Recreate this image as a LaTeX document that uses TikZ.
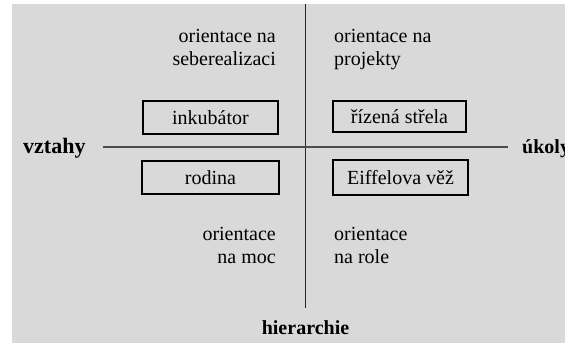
\documentclass[tikz,border=0pt]{standalone}
\usepackage{fontspec}
\setmainfont{Liberation Serif}
\begin{document}
\begin{tikzpicture}[x=1pt,y=-1pt,
  txt/.style={inner sep=0pt,font=\fontsize{20}{23}\selectfont},
  bld/.style={txt,font=\fontsize{20}{23}\selectfont\bfseries},
  boxnode/.style={draw=black,line width=1.3pt,inner sep=0pt,font=\fontsize{20}{23}\selectfont},
  axis/.style={line width=1.3pt,draw=black!85}]
\useasboundingbox (0,0) rectangle (565,343);
\fill[fill={rgb,255:red,217;green,217;blue,217}] (12,4) rectangle (565,343);
% axes
\coordinate (vt) at (305.5,4);
\coordinate (vb) at (305.5,308);
\coordinate (hl) at (103,147);
\coordinate (hr) at (508,147);
\draw[axis] (vt) -- (vb);
\draw[axis,draw=black!70,line width=1.1pt] (hl) -- (hr);
% axis labels
\node[bld,font=\fontsize{22}{25}\selectfont\bfseries,anchor=base west] (vztahy) at (23,153) {vztahy};
\node[bld,anchor=base west] (ukoly) at (522,153) {úkoly};
\node[bld,anchor=base] (hier) at (305.5,334) {hierarchie};
% quadrant texts
\node[txt,anchor=base east] (q1a) at (276,42) {orientace na};
\node[txt,anchor=base east] (q1b) at (276,65) {seberealizaci};
\node[txt,anchor=base west] (q2a) at (334,42) {orientace na};
\node[txt,anchor=base west] (q2b) at (334,65) {projekty};
\node[txt,anchor=base east] (q3a) at (276,240) {orientace};
\node[txt,anchor=base east] (q3b) at (276,263) {na moc};
\node[txt,anchor=base west] (q4a) at (334,240) {orientace};
\node[txt,anchor=base west] (q4b) at (334,263) {na role};
% boxes
\node[boxnode,minimum width=135pt,minimum height=33pt] (ink) at (210.5,117.5) {inkubátor};
\node[boxnode,minimum width=133pt,minimum height=31pt] (riz) at (399.5,116.5) {řízená střela};
\node[boxnode,minimum width=137pt,minimum height=33pt] (rod) at (210.5,177.5) {rodina};
\node[boxnode,minimum width=135pt,minimum height=35pt] (eif) at (400.5,177.5) {Eiffelova věž};
\end{tikzpicture}
\end{document}
